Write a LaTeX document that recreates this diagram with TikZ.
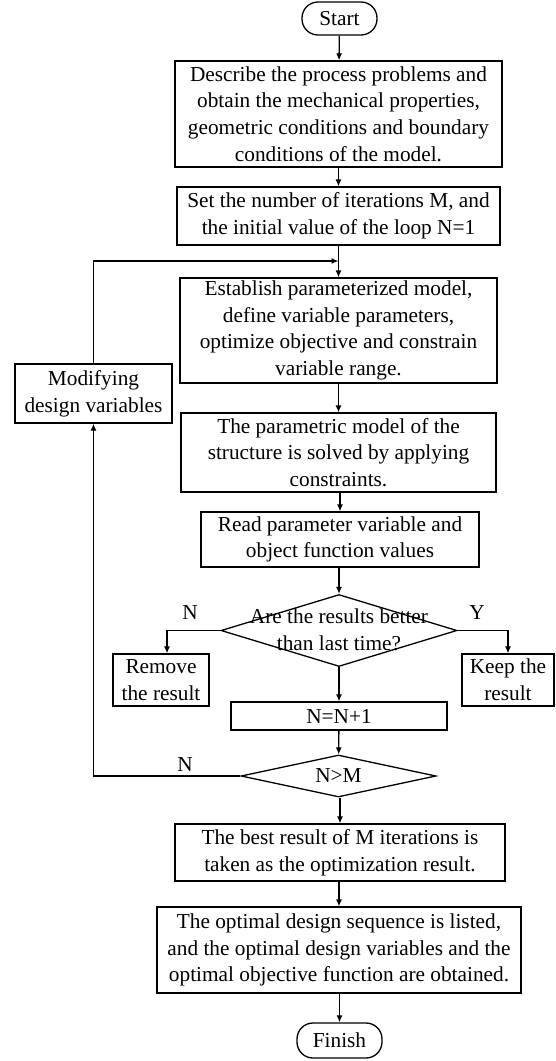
\documentclass[tikz,border=0pt]{standalone}
\usepackage{fontspec}
\setmainfont{Liberation Serif}
\usetikzlibrary{shapes.geometric,arrows.meta}
\begin{document}
\begin{tikzpicture}[x=1pt,y=-1pt,
  every node/.style={font=\fontsize{21.3}{26.7}\selectfont, inner sep=0pt, align=center},
  box/.style={draw, line width=1.3pt, rectangle},
  term/.style={draw, line width=1.3pt, rectangle, rounded corners=16pt},
  dia/.style={draw, line width=1.3pt, diamond},
  arr/.style={line width=1.3pt, -{Latex[length=7pt,width=6pt]}},
  ln/.style={line width=1.3pt}]
\useasboundingbox[fill=white] (0,0) rectangle (556,1061);
\node[term, minimum width=75pt, minimum height=33pt] (start) at (339.5,18.5) {Start};
\node[box, minimum width=327pt, minimum height=106pt] (b1) at (338.5,114) {Describe the process problems and\\obtain the mechanical properties,\\geometric conditions and boundary\\conditions of the model.};
\node[box, minimum width=323pt, minimum height=58pt] (b2) at (338.5,216) {Set the number of iterations M, and\\the initial value of the loop N=1};
\coordinate (join) at (338.5,261);
\node[box, minimum width=317pt, minimum height=105pt] (b3) at (338.5,330.5) {Establish parameterized model,\\define variable parameters,\\optimize objective and constrain\\variable range.};
\node[box, minimum width=157pt, minimum height=59pt] (mod) at (93.5,393.5) {Modifying\\design variables};
\node[box, minimum width=315pt, minimum height=79pt] (b4) at (338.5,452.5) {The parametric model of the\\structure is solved by applying\\constraints.};
\node[box, minimum width=278pt, minimum height=55pt] (b5) at (340,539.5) {Read parameter variable and\\object function values};
\node[dia, minimum width=236pt, minimum height=72pt] (d1) at (339,630.5) {};
\node (d1t) at (339,630) {Are the results better\\than last time?};
\node[box, minimum width=96pt, minimum height=52pt] (remove) at (161,680) {Remove\\the result};
\node[box, minimum width=92pt, minimum height=52pt] (keep) at (508,680) {Keep the\\result};
\node[box, minimum width=216pt, minimum height=28pt] (n1) at (339,716) {N=N+1};
\node[dia, minimum width=195pt, minimum height=42pt] (d2) at (338.5,776) {};
\node (d2t) at (338.5,776) {N>M};
\node[box, minimum width=330pt, minimum height=57pt] (best) at (340,852.5) {The best result of M iterations is\\taken as the optimization result.};
\node[box, minimum width=364pt, minimum height=86pt] (opt) at (339,950) {The optimal design sequence is listed,\\and the optimal design variables and the\\optimal objective function are obtained.};
\node[term, minimum width=85pt, minimum height=35pt] (finish) at (339.5,1040.5) {Finish};
\node (lN1) at (190,613) {N};
\node (lY) at (477,613) {Y};
\node (lN2) at (185,765) {N};
\draw[arr] (start) -- (b1);
\draw[arr] (b1) -- (b2);
\draw[arr] (b2) -- (b3);
\draw[arr] (b3) -- (b4);
\draw[arr] (b4.south -| b5) -- (b5);
\draw[arr] (b5.south -| d1) -- (d1);
\draw[arr] (d1) -- (n1);
\draw[arr] (n1) -- (d2);
\draw[arr] (d2.south -| best.north) -- (best.north);
\draw[arr] (best.south -| opt.north) -- (opt.north);
\draw[arr] (opt.south -| finish) -- (finish);
\draw[arr] (d1.west) -| ([xshift=6pt]remove.north);
\draw[arr] (d1.east) -| (keep.north);
\draw[arr] (d2.west) -| (mod.south);
\draw[arr] (mod.north) |- (join);
\end{tikzpicture}
\end{document}
